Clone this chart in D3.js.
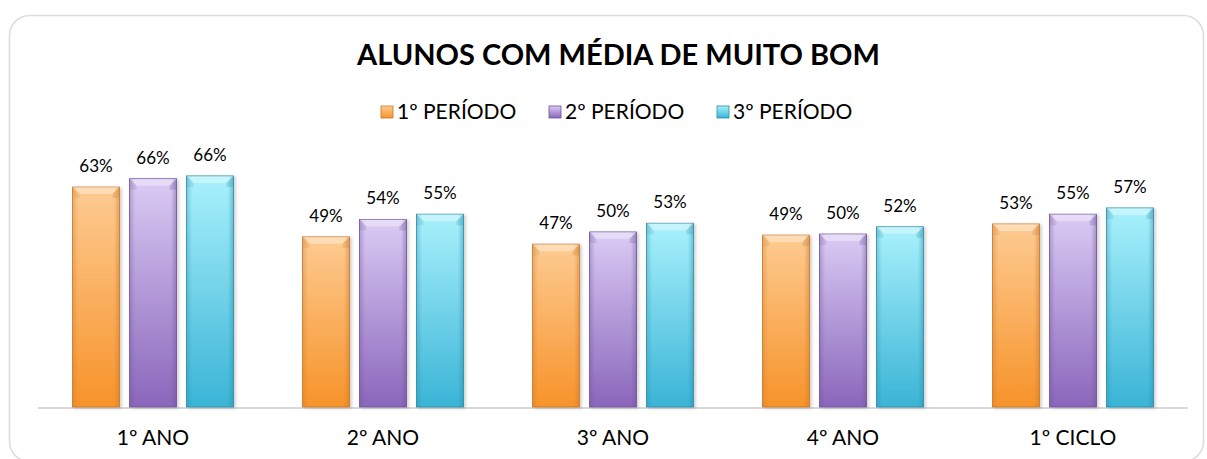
<!DOCTYPE html>
<html>
<head>
<meta charset="utf-8">
<script src="https://cdn.jsdelivr.net/npm/d3@7"></script>
<style>
  body { margin: 0; background: #fff; }
  svg { display: block; font-family: Lato, "DejaVu Sans", sans-serif; }
</style>
</head>
<body>
<div id="chart"></div>
<script>
// chart values
var categories = ["1º ANO", "2º ANO", "3º ANO", "4º ANO", "1º CICLO"];
var series = ["1º PERÍODO", "2º PERÍODO", "3º PERÍODO"];
var periodo1 = [0.632, 0.489, 0.468, 0.494, 0.526];
var periodo2 = [0.656, 0.539, 0.503, 0.497, 0.554];
var periodo3 = [0.664, 0.554, 0.528, 0.518, 0.572];
var chartTitle = "ALUNOS COM MÉDIA DE MUITO BOM";

var values = [periodo1, periodo2, periodo3];
// light top, strong bottom, edge colour
var colors = [
    {top: "#fdcb92", bottom: "#f7932a", edge: "#c9762a"},
    {top: "#dacbf4", bottom: "#8a66bb", edge: "#6e5196"},
    {top: "#a9f1fc", bottom: "#3ab4d6", edge: "#2a8aa6"}
];

function make_bar_chart() {
    var width = 1207, height = 459;
    var svg = d3.select("#chart").append("svg")
        .attr("width", width)
        .attr("height", height);

    var defs = svg.append("defs");
    colors.forEach(function(c, i) {
        var grad = defs.append("linearGradient")
            .attr("id", "grad" + i)
            .attr("x1", 0).attr("y1", 0).attr("x2", 0).attr("y2", 1);
        grad.append("stop").attr("offset", "0%").attr("stop-color", c.top);
        grad.append("stop").attr("offset", "100%").attr("stop-color", c.bottom);
        var side = defs.append("linearGradient")
            .attr("id", "side" + i)
            .attr("x1", 0).attr("y1", 0).attr("x2", 1).attr("y2", 0);
        side.append("stop").attr("offset", "0%").attr("stop-color", c.edge).attr("stop-opacity", 0.35);
        side.append("stop").attr("offset", "12%").attr("stop-color", c.edge).attr("stop-opacity", 0);
        side.append("stop").attr("offset", "88%").attr("stop-color", c.edge).attr("stop-opacity", 0);
        side.append("stop").attr("offset", "100%").attr("stop-color", c.edge).attr("stop-opacity", 0.45);
    });
    var shadow = defs.append("filter").attr("id", "shadow")
        .attr("x", "-20%").attr("y", "-10%").attr("width", "150%").attr("height", "130%");
    shadow.append("feDropShadow")
        .attr("dx", 2).attr("dy", 1).attr("stdDeviation", 1.5)
        .attr("flood-color", "#000").attr("flood-opacity", 0.18);

    // outer frame
    svg.append("rect")
        .attr("x", 9.5).attr("y", 15.5)
        .attr("width", 1194).attr("height", 446)
        .attr("rx", 20)
        .attr("fill", "#fff")
        .attr("stroke", "#dcdcdc")
        .attr("stroke-width", 1.5);

    var xScale = d3.scaleBand(categories, [38, 1188]).padding(0);
    var xInner = d3.scaleBand([0, 1, 2], [34.5, xScale.bandwidth() - 34.5])
        .paddingInner(0.175).paddingOuter(0);
    var yScale = d3.scaleLinear([0, 1], [407, 59]);
    var fmt = d3.format(".0%");

    svg.append("text")
        .text(chartTitle)
        .attr("x", 618.5).attr("y", 65)
        .attr("text-anchor", "middle")
        .attr("font-size", 29)
        .attr("font-weight", "bold")
        .attr("fill", "#000");

    // legend
    var legend = svg.append("g").attr("transform", "translate(381,106)");
    series.forEach(function(s, i) {
        var item = legend.append("g").attr("transform", "translate(" + (i * 168) + ",0)");
        item.append("rect")
            .attr("width", 12).attr("height", 12)
            .attr("fill", "url(#grad" + i + ")")
            .attr("stroke", colors[i].edge).attr("stroke-width", 0.8);
        item.append("text")
            .text(s)
            .attr("x", 16).attr("y", 12.5)
            .attr("font-size", 21)
            .attr("fill", "#000");
    });

    // baseline
    svg.append("line")
        .attr("x1", 38).attr("x2", 1188)
        .attr("y1", yScale(0) + 1).attr("y2", yScale(0) + 1)
        .attr("stroke", "#d9d9d9").attr("stroke-width", 2);

    var groups = svg.selectAll("g.cat")
        .data(categories)
        .join("g")
        .attr("class", "cat")
        .attr("transform", function(d) { return "translate(" + xScale(d) + ",0)"; });

    groups.each(function(cat, ci) {
        var g = d3.select(this);
        values.forEach(function(vals, si) {
            var v = vals[ci];
            var x0 = xInner(si), bw = xInner.bandwidth();
            var y0 = yScale(v), y1 = yScale(0);
            var bar = g.append("g");
            bar.append("rect")
                .attr("x", x0).attr("y", y0)
                .attr("width", bw).attr("height", y1 - y0)
                .attr("fill", "url(#grad" + si + ")")
                .attr("stroke", colors[si].edge).attr("stroke-width", 0.8)
                .attr("filter", "url(#shadow)");
            bar.append("rect")
                .attr("x", x0).attr("y", y0)
                .attr("width", bw).attr("height", y1 - y0)
                .attr("fill", "url(#side" + si + ")");
            // bevel on top edge
            var b = 7;
            bar.append("path")
                .attr("d", "M" + x0 + "," + y0 + "L" + (x0 + bw) + "," + y0 +
                    "L" + (x0 + bw - b) + "," + (y0 + b) + "L" + (x0 + b) + "," + (y0 + b) + "Z")
                .attr("fill", "#fff").attr("fill-opacity", 0.35);
            bar.append("path")
                .attr("d", "M" + x0 + "," + y0 + "L" + (x0 + b) + "," + (y0 + b) +
                    "L" + (x0 + b) + "," + (y0 + b + 4) + "L" + x0 + "," + (y0 + b + 4) + "Z")
                .attr("fill", colors[si].edge).attr("fill-opacity", 0.15);
            bar.append("path")
                .attr("d", "M" + (x0 + bw) + "," + y0 + "L" + (x0 + bw - b) + "," + (y0 + b) +
                    "L" + (x0 + bw - b) + "," + (y0 + b + 4) + "L" + (x0 + bw) + "," + (y0 + b + 4) + "Z")
                .attr("fill", colors[si].edge).attr("fill-opacity", 0.25);

            g.append("text")
                .text(fmt(v))
                .attr("x", x0 + bw / 2)
                .attr("y", y0 - 15)
                .attr("text-anchor", "middle")
                .attr("font-size", 17)
                .attr("fill", "#000");
        });
        g.append("text")
            .text(cat)
            .attr("x", xScale.bandwidth() / 2)
            .attr("y", 445)
            .attr("text-anchor", "middle")
            .attr("font-size", 21)
            .attr("fill", "#000");
    });
}

make_bar_chart();
</script>
</body>
</html>
